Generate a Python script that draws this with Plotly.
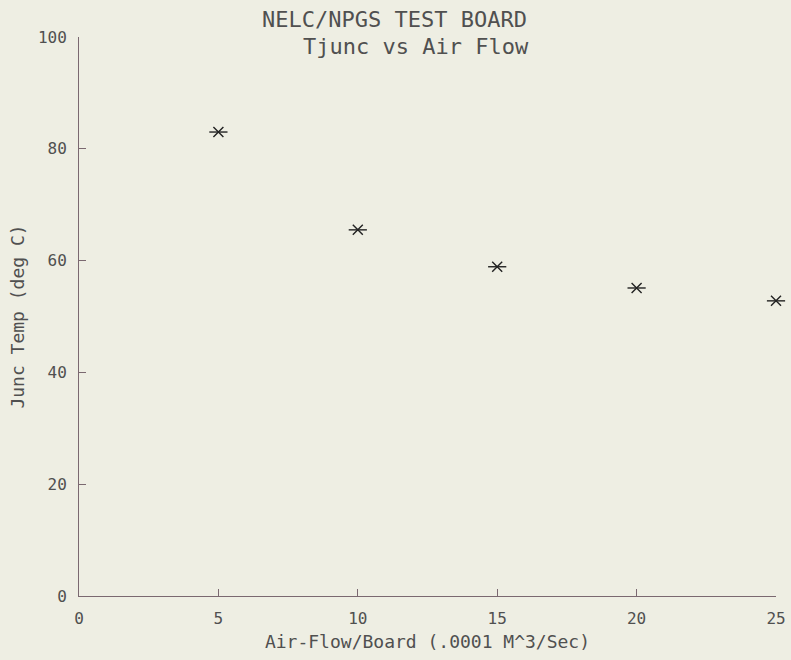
import plotly.graph_objects as go

air_flow = [5, 10, 15, 20, 25]
junc_temp = [83.0, 65.5, 58.9, 55.1, 52.8]
x_ticks = [0, 5, 10, 15, 20, 25]
y_ticks = [0, 20, 40, 60, 80, 100]

BG = "#eeeee3"
INK = "#505050"
AXIS = "#7a6870"
FONT = "DejaVu Sans Mono"

W, H = 791, 660
L, T, R, B = 79, 37, 15, 64
PW, PH = W - L - R, H - T - B

fig = go.Figure()
fig.add_trace(go.Scatter(x=air_flow, y=junc_temp, mode="markers", cliponaxis=False,
                         marker=dict(symbol="x-thin-open", size=10, color="#222",
                                     line=dict(color="#222", width=1.4)),
                         hoverinfo="x+y", showlegend=False))
fig.add_trace(go.Scatter(x=air_flow, y=junc_temp, mode="markers", cliponaxis=False,
                         marker=dict(symbol="line-ew-open", size=13, color="#222",
                                     line=dict(color="#222", width=1.4)),
                         hoverinfo="skip", showlegend=False))

fig.update_layout(
    width=W, height=H,
    paper_bgcolor=BG, plot_bgcolor=BG,
    margin=dict(l=L, r=R, t=T, b=B, autoexpand=False),
    font=dict(family=FONT, size=16, color=INK),
    xaxis=dict(range=[0, 25], tickvals=x_ticks, ticks="inside", ticklen=7,
               tickcolor=AXIS, showline=True, linecolor=AXIS, linewidth=1,
               showgrid=False, zeroline=False, ticklabelstandoff=8,
               automargin=False,
               title=dict(text="Air-Flow/Board (.0001 M^3/Sec)",
                          font=dict(size=18), standoff=8)),
    yaxis=dict(range=[0, 100], tickvals=y_ticks, ticks="inside", ticklen=7,
               tickcolor=AXIS, showline=True, linecolor=AXIS, linewidth=1,
               showgrid=False, zeroline=False, ticklabelstandoff=8,
               automargin=False,
               title=dict(text="Junc Temp (deg C)", font=dict(size=18),
                          standoff=8)),
    annotations=[
        dict(text="NELC/NPGS TEST BOARD", xref="paper", yref="paper",
             x=(394 - L) / PW, y=1 + (T - 19) / PH, showarrow=False,
             font=dict(size=22), xanchor="center", yanchor="middle"),
        dict(text="Tjunc vs Air Flow", xref="paper", yref="paper",
             x=(416 - L) / PW, y=1 - (46 - T) / PH, showarrow=False,
             font=dict(size=22), xanchor="center", yanchor="middle"),
    ],
)

fig.write_html("out.html", config={"displayModeBar": False},
               post_script="document.documentElement.style.margin='0';"
                           "document.documentElement.style.padding='0';"
                           "document.documentElement.style.overflow='hidden';"
                           "document.body.style.margin='0';"
                           "document.body.style.padding='0';"
                           "document.body.style.overflow='hidden';"
                           "document.body.style.background='#eeeee3';")
